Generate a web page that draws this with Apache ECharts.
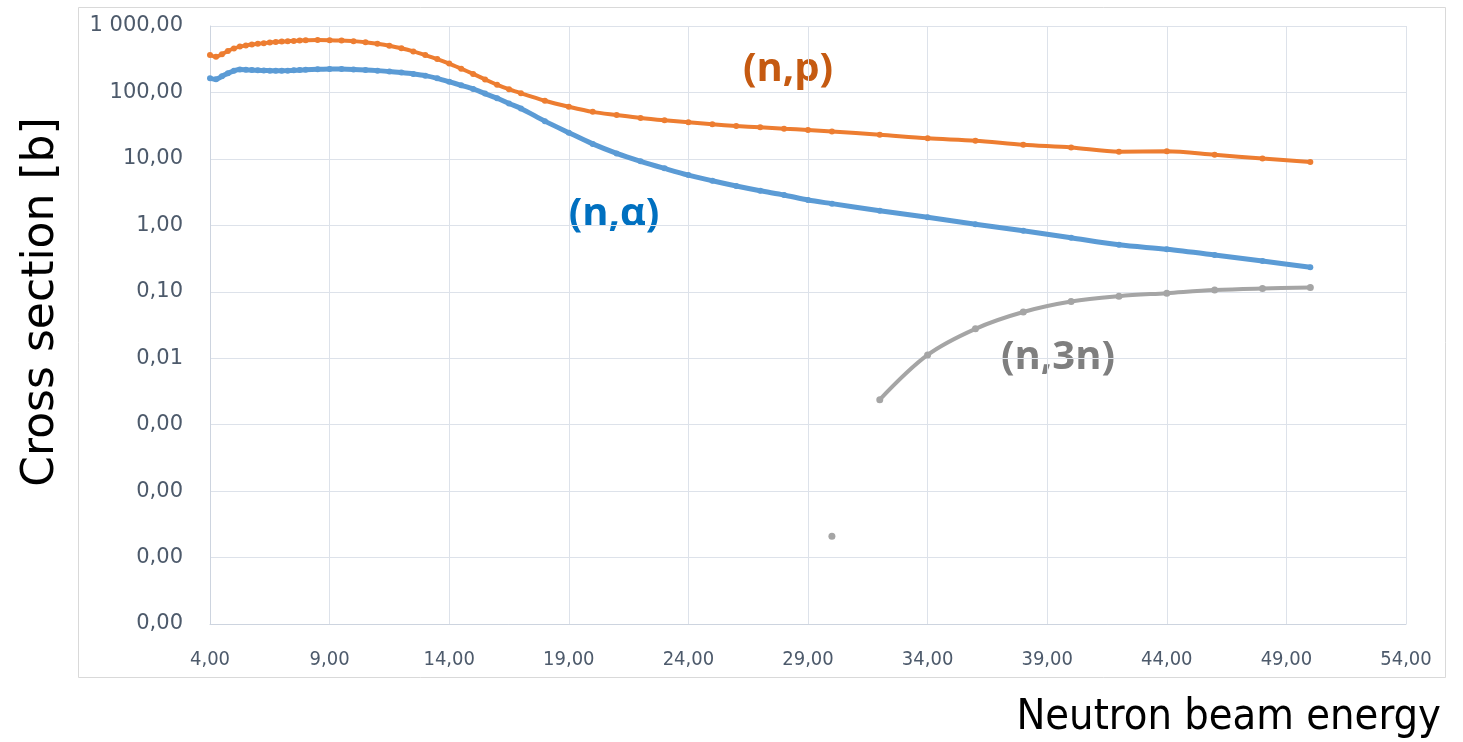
<!DOCTYPE html>
<html>
<head>
<meta charset="utf-8">
<title>Neutron-induced reaction cross sections</title>
<script src="https://cdn.jsdelivr.net/npm/echarts@6/dist/echarts.min.js"></script>
<style>
  html, body { margin: 0; padding: 0; background: #ffffff; }
  #chart { width: 1463px; height: 742px; }
</style>
</head>
<body>
<div id="chart"></div>
<script>
// Neutron beam energy (MeV) grid for the (n,p) and (n,alpha) excitation functions
const energies = [
  4.00, 4.25, 4.50, 4.75, 5.00, 5.25, 5.50, 5.75, 6.00, 6.25, 6.50, 6.75,
  7.00, 7.25, 7.50, 7.75, 8.00, 8.50, 9.00, 9.50, 10.00, 10.50, 11.00, 11.50,
  12.00, 12.50, 13.00, 13.50, 14.00, 14.50, 15.00, 15.50, 16.00, 16.50,
  17, 18, 19, 20, 21, 22, 23, 24, 25, 26, 27, 28, 29, 30,
  32, 34, 36, 38, 40, 42, 44, 46, 48, 50
];

// (n,p) cross section [b]
const crossNP = [
  366, 345, 375, 420, 460, 490, 510, 525, 540, 552, 565, 575,
  583, 590, 597, 603, 608, 614, 612, 604, 592, 570, 540, 505,
  462, 415, 365, 318, 272, 228, 190, 157, 130, 112,
  97, 75, 61, 51, 45.7, 41.2, 38, 35.5, 33.1, 31.3, 29.9, 28.5, 27.2, 25.8,
  23.1, 20.4, 18.8, 16.3, 14.9, 12.8, 13.0, 11.5, 10.1, 9.0
];

// (n,alpha) cross section [b]
const crossNA = [
  163, 158, 175, 195, 212, 222, 220, 217, 215, 214, 213, 212,
  212, 213, 215, 217, 219, 223, 226, 225, 222, 218, 213, 207,
  199, 190, 179, 163, 145, 128, 113, 96, 82, 68,
  57.5, 37, 24.8, 16.8, 12.1, 9.2, 7.2, 5.7, 4.68, 3.9, 3.31, 2.86, 2.4, 2.12,
  1.66, 1.32, 1.035, 0.83, 0.65, 0.51, 0.435, 0.357, 0.29, 0.234
];

// (n,3n): one isolated value at 30 MeV, then the curve from threshold at 32 MeV
const energies3n = [30, 31, 32, 34, 36, 38, 40, 42, 44, 46, 48, 50];
const cross3N = [2.1e-5, null, 0.00238, 0.0112, 0.0277, 0.0496, 0.0713, 0.0859, 0.0954, 0.106, 0.112, 0.116];

// Axis ticks
const xTickStart = 4;
const xTickEnd = 54;
const xTickStep = 5;
const yMin = 1e-6;
const yMax = 1000;

const pairs = (xs, ys) => xs.map((x, i) => [x, ys[i]]);

function fmtComma(v) {
  const s = Number(v).toFixed(2);
  const parts = s.split('.');
  const intPart = parts[0].replace(/\B(?=(\d{3})+(?!\d))/g, ' ');
  return intPart + ',' + parts[1];
}

const chart = echarts.init(document.getElementById('chart'), null, { renderer: 'canvas' });

const gridColor = '#DDE2EA';
const tickColor = '#4D5A6B';

chart.setOption({
  backgroundColor: '#ffffff',
  animation: false,
  grid: { left: 210, right: 57, top: 26, bottom: 118, containLabel: false },
  xAxis: {
    type: 'value',
    min: xTickStart,
    max: xTickEnd,
    interval: xTickStep,
    axisLine: { show: true, lineStyle: { color: '#CDD4DF', width: 1 } },
    axisTick: { show: false },
    splitLine: { show: true, lineStyle: { color: gridColor, width: 1 } },
    axisLabel: {
      color: tickColor,
      fontFamily: 'DejaVu Sans Condensed',
      fontSize: 20,
      margin: 26,
      formatter: v => fmtComma(v)
    }
  },
  yAxis: {
    type: 'log',
    logBase: 10,
    min: yMin,
    max: yMax,
    axisLine: { show: true, lineStyle: { color: '#CDD4DF', width: 1 } },
    axisTick: { show: false },
    splitLine: { show: true, lineStyle: { color: gridColor, width: 1 } },
    axisLabel: {
      color: tickColor,
      fontFamily: 'DejaVu Sans',
      fontSize: 21,
      margin: 27,
      formatter: v => fmtComma(v)
    }
  },
  series: [
    {
      name: '(n,p)',
      type: 'line',
      data: pairs(energies, crossNP),
      smooth: 0.3,
      symbol: 'circle',
      symbolSize: 6,
      showSymbol: true,
      lineStyle: { color: '#ED7D31', width: 4 },
      itemStyle: { color: '#ED7D31' },
      z: 3
    },
    {
      name: '(n,α)',
      type: 'line',
      data: pairs(energies, crossNA),
      smooth: 0.3,
      symbol: 'circle',
      symbolSize: 6,
      showSymbol: true,
      lineStyle: { color: '#5B9BD5', width: 5 },
      itemStyle: { color: '#5B9BD5' },
      z: 4
    },
    {
      name: '(n,3n)',
      type: 'line',
      data: pairs(energies3n, cross3N),
      smooth: 0.35,
      connectNulls: false,
      symbol: 'circle',
      symbolSize: 7,
      showSymbol: true,
      lineStyle: { color: '#A5A5A5', width: 4 },
      itemStyle: { color: '#A5A5A5' },
      z: 5
    }
  ],
  graphic: [
    {
      type: 'rect',
      z: -1,
      silent: true,
      shape: { x: 78.5, y: 7.5, width: 1367, height: 670 },
      style: { fill: null, stroke: '#D9D9D9', lineWidth: 1 }
    },
    {
      type: 'text',
      x: 42, y: 302,
      rotation: Math.PI / 2,
      silent: true,
      style: {
        text: 'Cross section [b]',
        fill: '#000000',
        font: '44px "DejaVu Sans"',
        align: 'center',
        verticalAlign: 'middle'
      }
    },
    {
      type: 'text',
      x: 1441, y: 718,
      silent: true,
      style: {
        text: 'Neutron beam energy',
        fill: '#000000',
        font: '43px "DejaVu Sans Condensed"',
        align: 'right',
        verticalAlign: 'middle'
      }
    },
    {
      type: 'text',
      x: 788, y: 70,
      silent: true,
      style: {
        text: '(n,p)',
        fill: '#C55A11',
        font: 'bold 40px "Open Sans"',
        align: 'center',
        verticalAlign: 'middle'
      }
    },
    {
      type: 'text',
      x: 614, y: 215,
      silent: true,
      style: {
        text: '(n,α)',
        fill: '#0070C0',
        font: 'bold 40px "Open Sans"',
        align: 'center',
        verticalAlign: 'middle'
      }
    },
    {
      type: 'text',
      x: 1058, y: 358,
      silent: true,
      style: {
        text: '(n,3n)',
        fill: '#7F7F7F',
        font: 'bold 40px "Open Sans"',
        align: 'center',
        verticalAlign: 'middle'
      }
    }
  ]
});
</script>
</body>
</html>
